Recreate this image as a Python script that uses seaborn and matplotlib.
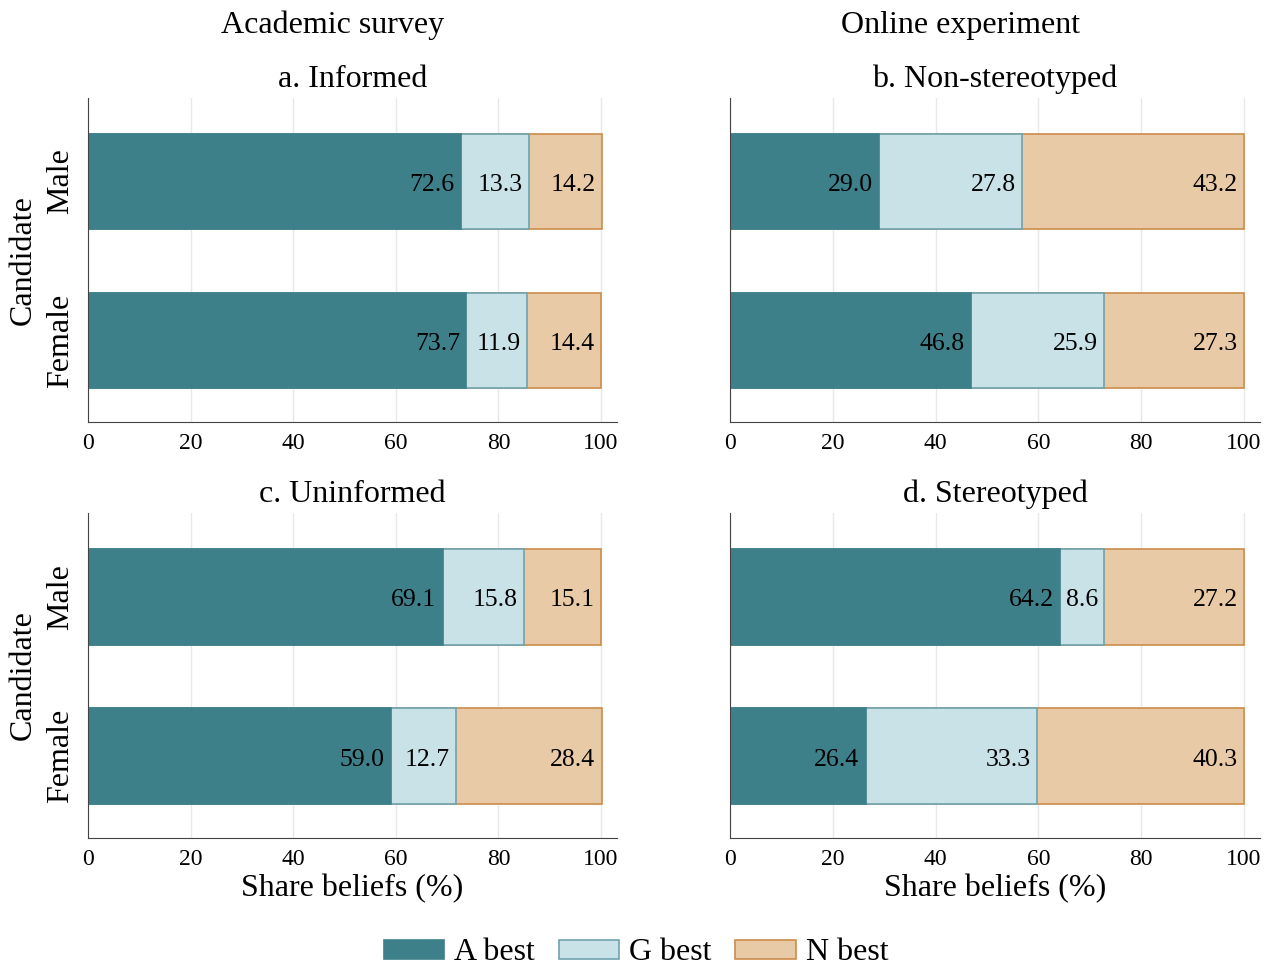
import numpy as np
import pandas as pd
import matplotlib.pyplot as plt
from matplotlib.patches import Patch
import seaborn as sns

# 数据
candidates = ["Male", "Female"]
panel_titles = ["a. Informed", "b. Non-stereotyped", "c. Uninformed", "d. Stereotyped"]
column_titles = ["Academic survey", "Online experiment"]
a_best = [[72.6, 73.7], [29.0, 46.8], [69.1, 59.0], [64.2, 26.4]]
g_best = [[13.3, 11.9], [27.8, 25.9], [15.8, 12.7], [8.6, 33.3]]
n_best = [[14.2, 14.4], [43.2, 27.3], [15.1, 28.4], [27.2, 40.3]]
series_names = ["A best", "G best", "N best"]

# 颜色
fills = ["#3E808A", "#C8E2E7", "#E8CAA7"]
edges = ["#3E808A", "#6FA3AE", "#CC8C4A"]

sns.set_style("white")
plt.rcParams['font.family'] = ['Liberation Serif', 'DejaVu Serif']
plt.rcParams['axes.edgecolor'] = '#444444'
plt.rcParams['text.color'] = 'black'
plt.rcParams['axes.labelcolor'] = 'black'
plt.rcParams['xtick.labelcolor'] = 'black'
plt.rcParams['ytick.labelcolor'] = 'black'

fig = plt.figure(figsize=(12.74, 9.66), dpi=100)

W, H = 1274, 966
boxes = [(88, 98, 617, 422), (730, 98, 1260, 422),
         (88, 513, 617, 838), (730, 513, 1260, 838)]

for i, (x0, y0, x1, y1) in enumerate(boxes):
    ax = fig.add_axes([x0 / W, 1 - y1 / H, (x1 - x0) / W, (y1 - y0) / H])
    a = np.array(a_best[i])
    g = np.array(g_best[i])
    n = np.array(n_best[i])
    ends = [a, a + g, a + g + n]
    # 叠加画法：先画总长，再画前两段
    for k in [2, 1, 0]:
        df = pd.DataFrame({"Candidate": candidates, "val": ends[k]})
        sns.barplot(data=df, x="val", y="Candidate", orient="h", ax=ax,
                    color=fills[k], edgecolor=edges[k], linewidth=1.2,
                    saturation=1, width=0.6)
    vals = [a, g, n]
    for k in range(3):
        for j in range(2):
            ax.annotate(f"{vals[k][j]:.1f}", xy=(ends[k][j], j), xytext=(-4.5, -2.5),
                        textcoords="offset points", ha="right", va="center",
                        fontsize=18.5, color="black")
    ax.set_xlim(0, 103.1)
    ax.set_ylim(1.513, -0.525)
    ax.set_xticks([0, 20, 40, 60, 80, 100])
    ax.grid(axis="x", color="#e8e8e8", lw=1)
    ax.set_axisbelow(True)
    sns.despine(ax=ax)
    ax.tick_params(axis="x", length=5, width=1, pad=3, labelsize=17, color="#444444")
    ax.tick_params(axis="y", length=0, pad=9, labelsize=23)
    ax.set_title(panel_titles[i], fontsize=23, pad=8, color="black")
    ax.set_xlabel("Share beliefs (%)" if i >= 2 else "", fontsize=23, labelpad=3)
    if i % 2 == 0:
        ax.set_yticks([0, 1])
        ax.set_yticklabels(candidates, rotation=90, va="center")
        ax.set_ylabel("Candidate", fontsize=23, labelpad=6)
    else:
        ax.set_yticks([])
        ax.set_ylabel("")

fig.text(333 / W, 1 - 25 / H, column_titles[0], ha="center", va="center", fontsize=23)
fig.text(961 / W, 1 - 25 / H, column_titles[1], ha="center", va="center", fontsize=23)

handles = [Patch(facecolor=fills[k], edgecolor=edges[k], linewidth=1.2) for k in range(3)]
fig.legend(handles, series_names, loc="center", bbox_to_anchor=(636 / W, 1 - 953 / H),
           ncol=3, frameon=False, fontsize=23, handlelength=1.9, handleheight=0.55,
           handletextpad=0.3, columnspacing=0.75)

fig.savefig("out.png", dpi=100)
